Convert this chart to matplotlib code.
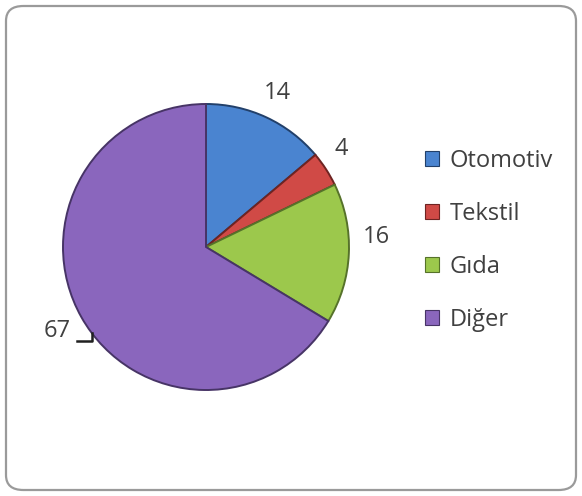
import numpy as np
import matplotlib
matplotlib.use("Agg")
import matplotlib.pyplot as plt
from matplotlib.patches import FancyBboxPatch, Patch

categories = ["Otomotiv", "Tekstil", "Gıda", "Diğer"]
values = [14, 4, 16, 67]
colors = ["#4a84d0", "#d04a46", "#9cc84c", "#8a66bd"]
edge_colors = ["#22406a", "#6e2422", "#56722a", "#473466"]

plt.rcParams['font.family'] = ['Open Sans', 'DejaVu Sans']

W, H = 582, 496
fig = plt.figure(figsize=(W / 100, H / 100), dpi=100)

# rounded border
fig.patches.append(FancyBboxPatch((6 / W, 6 / H), (W - 12) / W, (H - 12) / H,
                                  boxstyle="round,pad=0,rounding_size=0.03",
                                  transform=fig.transFigure, fill=False,
                                  edgecolor="#9a9a9a", linewidth=1.6))

cx, cy, r = 206, 247, 143
ax = fig.add_axes([(cx - r) / W, (H - cy - r) / H, 2 * r / W, 2 * r / H])
wedges, _ = ax.pie(values, colors=colors, startangle=90, counterclock=False,
                   radius=1.0, wedgeprops=dict(linewidth=1.4))
for w, ec in zip(wedges, edge_colors):
    w.set_edgecolor(ec)
ax.set_xlim(-1, 1)
ax.set_ylim(-1, 1)
ax.set_aspect('auto')
ax.axis('off')

fs = 17
# label placement style (distance in radii, angle offset in degrees)
dists = [1.19, 1.17, 1.19, 1.03]
ang_off = [0, 3, 6, 10]
for w, v, d, da in zip(wedges, values, dists, ang_off):
    ang = np.deg2rad((w.theta1 + w.theta2) / 2 + da)
    x, y = d * np.cos(ang), d * np.sin(ang)
    if v == max(values):
        ax.text(x - 0.15, y + 0.067, str(v), ha='right', va='center', fontsize=fs,
                color="#404040", clip_on=False)
        ax.plot([x - 0.105, x, x], [y, y, y + 0.055],
                color="#202020", lw=1.8, clip_on=False)
    else:
        ax.text(x, y, str(v), ha='center', va='center', fontsize=fs,
                color="#404040", clip_on=False)

handles = [Patch(facecolor=c, edgecolor=ec, linewidth=0.8) for c, ec in zip(colors, edge_colors)]
fig.legend(handles, categories, loc='upper left', bbox_to_anchor=(418 / W, 1 - 142 / H),
           frameon=False, fontsize=fs, labelcolor="#404040", handlelength=0.6,
           handleheight=0.6, handletextpad=0.45, labelspacing=1.22,
           borderaxespad=0, borderpad=0.3)

fig.savefig("out.png", dpi=100)
